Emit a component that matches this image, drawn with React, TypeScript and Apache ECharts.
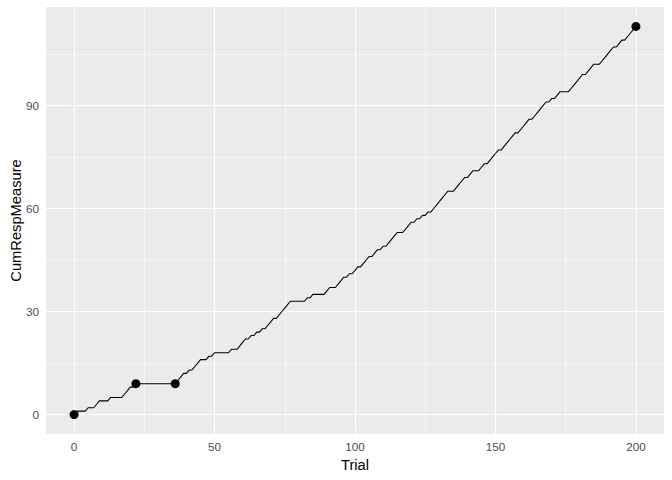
import React, { useEffect, useRef } from "react";
import * as echarts from "echarts";

// Cumulative response measure per trial (trial = index, 0..200)
const cumResp = [
  0, 1, 1, 1, 1, 2, 2, 2, 3, 4,
  4, 4, 4, 5, 5, 5, 5, 5, 6, 7,
  8, 8, 9, 9, 9, 9, 9, 9, 9, 9,
  9, 9, 9, 9, 9, 9, 9, 10, 11, 12,
  12, 13, 13, 14, 15, 16, 16, 16, 17, 17,
  18, 18, 18, 18, 18, 18, 19, 19, 19, 20,
  21, 22, 22, 23, 23, 24, 24, 25, 25, 26,
  27, 28, 28, 29, 30, 31, 32, 33, 33, 33,
  33, 33, 33, 34, 34, 35, 35, 35, 35, 35,
  36, 37, 37, 37, 38, 39, 40, 40, 41, 41,
  42, 43, 43, 44, 45, 46, 46, 47, 48, 48,
  49, 49, 50, 51, 52, 53, 53, 53, 54, 55,
  56, 56, 57, 57, 58, 58, 59, 59, 60, 61,
  62, 63, 64, 65, 65, 65, 66, 67, 68, 69,
  69, 70, 71, 71, 71, 72, 73, 73, 74, 75,
  76, 77, 77, 78, 79, 80, 81, 82, 82, 83,
  84, 85, 86, 86, 87, 88, 89, 90, 91, 91,
  92, 92, 93, 94, 94, 94, 94, 95, 96, 97,
  98, 99, 99, 100, 101, 102, 102, 102, 103, 104,
  105, 106, 107, 107, 108, 109, 109, 110, 111, 112,
  113,
];
const markedTrials = [0, 22, 36, 200];

const xTicks = [0, 50, 100, 150, 200];
const xMinor = [25, 75, 125, 175];
const yTicks = [0, 30, 60, 90];
const yMinor = [15, 45, 75, 105];

const X_MIN = -10;
const X_MAX = 210;
const Y_MIN = -5.65;
const Y_MAX = 118.65;

export default function App() {
  const ref = useRef<HTMLDivElement>(null);

  useEffect(() => {
    if (!ref.current) return;
    const chart = echarts.init(ref.current, undefined, { renderer: "svg" });

    const lineData = cumResp.map((v, i) => [i, v]);
    const pointData = markedTrials.map((t) => [t, cumResp[t]]);

    const font = "Liberation Sans, Arial, sans-serif";

    const gridLines = [
      ...xMinor.map((v) => ({ xAxis: v, lineStyle: { width: 0.55 } })),
      ...yMinor.map((v) => ({ yAxis: v, lineStyle: { width: 0.55 } })),
      ...xTicks.map((v) => ({ xAxis: v, lineStyle: { width: 1.1 } })),
      ...yTicks.map((v) => ({ yAxis: v, lineStyle: { width: 1.1 } })),
    ];

    chart.setOption({
      animation: false,
      backgroundColor: "#FFFFFF",
      grid: {
        left: 46,
        right: 8,
        top: 7,
        bottom: 46,
        show: true,
        containLabel: false,
        outerBoundsMode: "none",
        backgroundColor: "#EBEBEB",
        borderWidth: 0,
      },
      xAxis: {
        type: "value",
        min: X_MIN,
        max: X_MAX,
        name: "Trial",
        nameLocation: "middle",
        nameGap: 23,
        nameTextStyle: { color: "#000000", fontSize: 14.7, fontFamily: font },
        axisLine: { show: false },
        splitLine: { show: false },
        axisTick: {
          show: true,
          length: 3.7,
          lineStyle: { color: "#333333", width: 1.1 },
          customValues: xTicks,
        },
        axisLabel: {
          color: "#4D4D4D",
          fontSize: 11.7,
          fontFamily: font,
          margin: 6,
          customValues: xTicks,
        },
      },
      yAxis: {
        type: "value",
        min: Y_MIN,
        max: Y_MAX,
        name: "CumRespMeasure",
        nameLocation: "middle",
        nameGap: 23,
        nameMoveOverlap: false,
        nameTextStyle: { color: "#000000", fontSize: 14.7, fontFamily: font },
        axisLine: { show: false },
        splitLine: { show: false },
        axisTick: {
          show: true,
          length: 3.7,
          lineStyle: { color: "#333333", width: 1.1 },
          customValues: yTicks,
        },
        axisLabel: {
          color: "#4D4D4D",
          fontSize: 11.7,
          fontFamily: font,
          margin: 7,
          customValues: yTicks,
        },
      },
      series: [
        {
          type: "line",
          data: [],
          silent: true,
          z: 1,
          markLine: {
            silent: true,
            symbol: ["none", "none"],
            label: { show: false },
            z: 1,
            lineStyle: { color: "#FFFFFF", type: "solid" },
            emphasis: { disabled: true },
            data: gridLines,
          },
        },
        {
          type: "line",
          data: lineData,
          showSymbol: false,
          z: 3,
          lineStyle: { color: "#000000", width: 1.07 },
          silent: true,
        },
        {
          type: "scatter",
          data: pointData,
          symbol: "circle",
          symbolSize: 9,
          z: 4,
          itemStyle: { color: "#000000", opacity: 1 },
          silent: true,
        },
      ],
    });

    return () => {
      chart.dispose();
    };
  }, []);

  return (
    <div
      ref={ref}
      style={{ position: "fixed", left: 0, top: 0, width: 672, height: 480 }}
    />
  );
}
